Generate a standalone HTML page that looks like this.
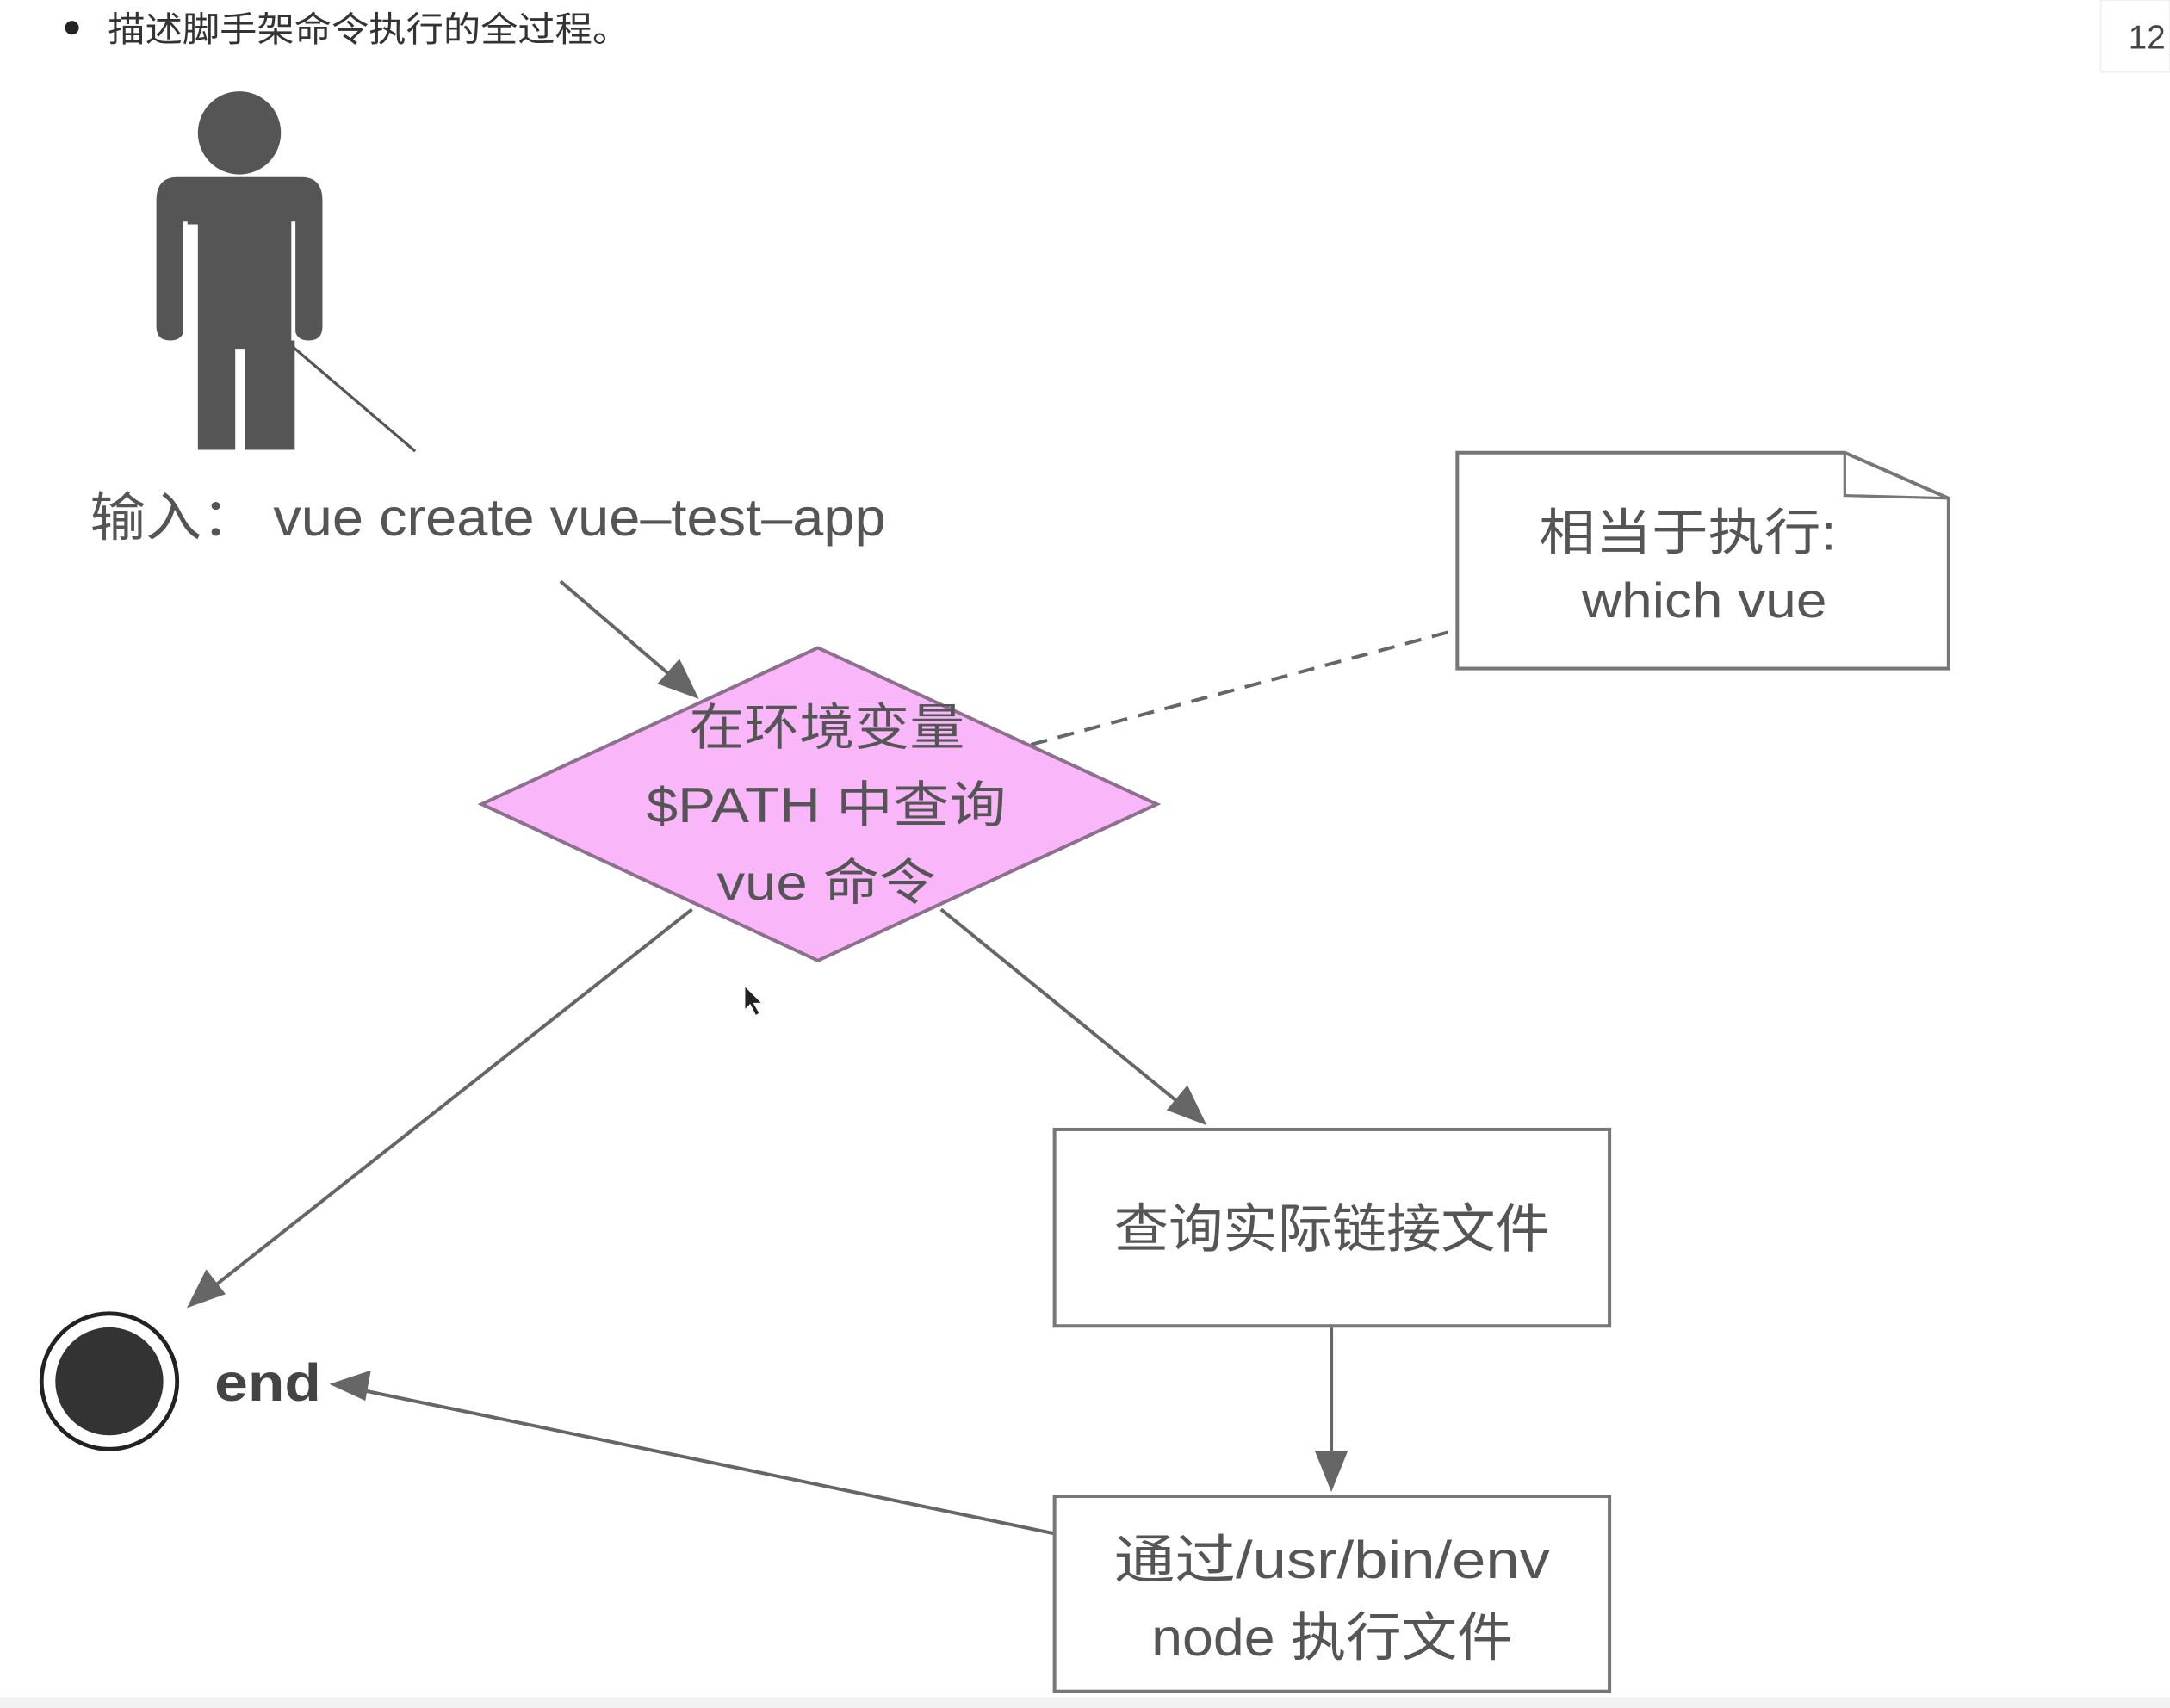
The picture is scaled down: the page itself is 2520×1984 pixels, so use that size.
<!DOCTYPE html>
<html><head><meta charset="utf-8"><style>
html,body{margin:0;padding:0;background:#fff;width:2520px;height:1984px;overflow:hidden}
svg{display:block}
text{font-family:"Liberation Sans","Noto Sans CJK SC",sans-serif;fill:#555}
</style></head><body>
<svg width="2520" height="1984" viewBox="0 0 1568 1234" preserveAspectRatio="none" xmlns="http://www.w3.org/2000/svg">
<rect x="0" y="0" width="1568" height="1234" fill="#fff"/>
<rect x="0" y="1226" width="1568" height="8" fill="#f2f2f2"/>
<!-- header -->
<circle cx="52" cy="20" r="5" fill="#222"/>
<text x="78" y="30" font-size="25" textLength="377" lengthAdjust="spacingAndGlyphs" style="fill:#333">描述脚手架命令执行的全过程。</text>
<rect x="1518" y="0" width="50" height="52" fill="#fff" stroke="#eee"/>
<text x="1538" y="35" font-size="24" style="fill:#444">12</text>
<!-- person -->
<g fill="#555">
<circle cx="173" cy="96" r="30"/>
<path d="M128 128 H218 Q233 128 233 145 V236 Q233 246 223 246 Q213 246 213 236 V162 H213 V325 H177 V252 H170 V325 H143 V162 H133 V236 Q133 246 123 246 Q113 246 113 236 V145 Q113 128 128 128 Z"/>
</g>
<g stroke="#fff" stroke-width="3">
<line x1="134" y1="160" x2="134" y2="246"/>
<line x1="212" y1="160" x2="212" y2="246"/>
</g>
<line x1="205" y1="245" x2="300" y2="326" stroke="#555" stroke-width="2"/>
<text x="65" y="387" font-size="38" textLength="575" lengthAdjust="spacingAndGlyphs">输入：  vue create vue–test–app</text>
<!-- arrows -->
<g stroke="#666" stroke-width="2.5" fill="none">
<line x1="405" y1="420" x2="495" y2="497"/>
<line x1="745" y1="538" x2="1053" y2="455" stroke-dasharray="12,8"/>
<line x1="500" y1="657" x2="145" y2="937"/>
<line x1="680" y1="657" x2="862" y2="805"/>
<line x1="962" y1="958" x2="962" y2="1065"/>
<line x1="762" y1="1108" x2="255" y2="1003"/>
</g>
<g fill="#666">
<polygon points="505,505 475,494 491,476"/>
<polygon points="135,945 149,917 163,935"/>
<polygon points="872,813 843,802 858,784"/>
<polygon points="962,1078 950,1048 974,1048"/>
<polygon points="238,1000 268,990 264,1012"/>
</g>
<!-- diamond -->
<polygon points="591,468 836,581 591,694 348,581" fill="#f9b6f9" stroke="#8c708c" stroke-width="2.5"/>
<text x="498" y="538" font-size="36" textLength="199" lengthAdjust="spacingAndGlyphs">在环境变量</text>
<text x="467" y="594" font-size="36" textLength="260" lengthAdjust="spacingAndGlyphs">$PATH 中查询</text>
<text x="518" y="650" font-size="36" textLength="158" lengthAdjust="spacingAndGlyphs">vue 命令</text>
<!-- note -->
<path d="M1053 327 H1333 L1408 360 V483 H1053 Z" fill="#fff" stroke="#777" stroke-width="2.5"/>
<path d="M1333 327 V358 L1408 360" fill="none" stroke="#777" stroke-width="2"/>
<text x="1112" y="397" font-size="36" textLength="215" lengthAdjust="spacingAndGlyphs">相当于执行:</text>
<text x="1143" y="446" font-size="36" textLength="177" lengthAdjust="spacingAndGlyphs">which vue</text>
<!-- boxes -->
<rect x="762" y="816" width="401" height="142" fill="#fff" stroke="#777" stroke-width="2.5"/>
<text x="805" y="901" font-size="38" textLength="315" lengthAdjust="spacingAndGlyphs">查询实际链接文件</text>
<rect x="762" y="1081" width="401" height="141" fill="#fff" stroke="#777" stroke-width="2.5"/>
<text x="805" y="1140" font-size="38" textLength="315" lengthAdjust="spacingAndGlyphs">通过/usr/bin/env</text>
<text x="832" y="1196" font-size="38" textLength="261" lengthAdjust="spacingAndGlyphs">node 执行文件</text>
<!-- end -->
<circle cx="79" cy="998" r="49" fill="#fff" stroke="#222" stroke-width="3"/>
<circle cx="79" cy="998" r="39" fill="#333"/>
<text x="155" y="1012" font-size="38" font-weight="bold" textLength="77" lengthAdjust="spacingAndGlyphs" style="fill:#444">end</text>
<!-- cursor -->
<path d="M538 712 L538 730 L542 726 L546 734 L549 732 L545 725 L551 725 Z" fill="#222" stroke="#fff" stroke-width="1"/>
</svg>
</body></html>
